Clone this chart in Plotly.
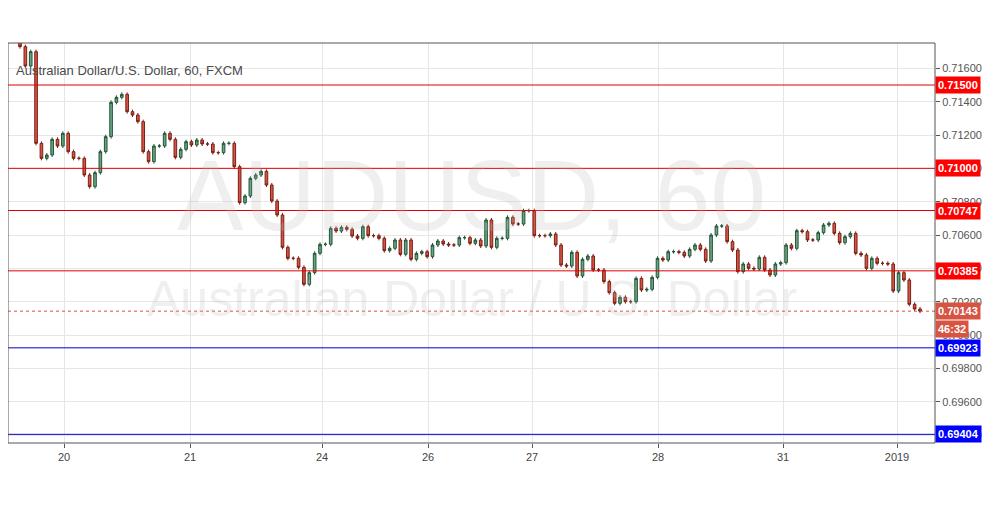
import plotly.graph_objects as go

first_open = 0.7177
closes = [
 0.7173,0.71614,0.7170,0.7115,0.7106,0.7108,0.71174,0.71134,0.7121,0.7110,0.7106,0.7106,0.7096,0.7089,
 0.70974,0.7110,0.7119,0.71396,0.71426,0.71444,0.7134,0.7132,0.7128,0.7110,0.7104,0.71134,0.71134,0.7121,
 0.71174,0.71066,0.71114,0.7116,0.7114,0.7117,0.71146,0.71146,0.71094,0.71094,0.7115,0.7115,0.7101,0.70794,0.70834,
 0.7094,0.7096,0.70982,0.7090,0.70804,0.7072,0.70526,0.7046,0.7046,0.70406,0.70304,0.70374,0.7049,0.70544,0.70544,
 0.7064,0.70624,0.70646,0.70634,0.70594,0.7058,0.7065,0.70596,0.70596,0.7058,0.70506,0.7052,0.7057,0.70484,0.7057,
 0.70454,0.7049,0.7050,0.7047,0.7054,0.70564,0.70546,0.7054,0.7054,0.70584,0.70584,0.7055,0.7057,
 0.70534,0.7069,0.70526,0.7058,0.7058,0.70706,0.70666,0.70666,0.70746,0.70746,0.70596,0.70596,0.70596,0.70606,
 0.7054,0.7042,0.70414,0.70496,0.70354,0.70454,0.70474,0.7039,0.7039,0.7032,0.70254,0.7019,0.70226,0.7020,0.7020,
 0.7034,0.7027,0.70274,0.70346,0.7046,0.7045,0.7050,0.7050,0.70496,0.70474,0.70514,0.7054,0.70514,0.70444,0.7060,0.70654,
 0.70654,0.7056,0.7051,0.7038,0.70426,0.7040,0.70396,0.70466,0.7039,0.7036,0.70426,0.70434,0.7054,0.7052,0.70626,
 0.7062,0.7057,0.7057,0.70614,0.7066,0.7067,0.7061,0.70554,0.7059,0.7061,0.7049,0.7048,0.7040,0.7046,0.7043,0.7043,
 0.70426,0.70264,0.70374,0.7033,0.70184,0.70156,0.70143,
]
day_labels = ["20", "21", "24", "26", "27", "28", "31", "2019"]
day_px = [64, 190, 322, 428, 532, 658, 783, 897]
red_levels = [0.71500, 0.71000, 0.70747, 0.70385]
blue_levels = [0.69923, 0.69404]
last_price = 0.70143
price_ticks = [0.6940 + 0.0020 * i for i in range(12)]

n = len(closes)
opens = [first_open] + closes[:-1]
highs = [max(o, c) + 0.00012 for o, c in zip(opens, closes)]
lows = [min(o, c) - 0.00012 for o, c in zip(opens, closes)]
x = list(range(n))

step = 900 / (n - 1)
x_left = -(20 - 8) / step
x_right = (n - 1) + (935 - 920) / step
tickvals = [(p - 20) / step for p in day_px]

fig = go.Figure()
fig.add_trace(go.Candlestick(
    x=x, open=opens, high=highs, low=lows, close=closes,
    increasing=dict(line=dict(color="#225437", width=1), fillcolor="#6ba583"),
    decreasing=dict(line=dict(color="#7a1f14", width=1), fillcolor="#d75442"),
    whiskerwidth=0, showlegend=False, hoverinfo="skip"))

shapes = []
for lv in red_levels:
    shapes.append(dict(type="line", xref="paper", x0=0, x1=1, yref="y", y0=lv, y1=lv,
                       line=dict(color="#e00000", width=1)))
for lv in blue_levels:
    shapes.append(dict(type="line", xref="paper", x0=0, x1=1, yref="y", y0=lv, y1=lv,
                       line=dict(color="#0000c8", width=1)))
shapes.append(dict(type="line", xref="paper", x0=0, x1=1, yref="y", y0=last_price, y1=last_price,
                   line=dict(color="#d75442", width=1, dash="dot")))
shapes.append(dict(type="rect", xref="paper", yref="paper", x0=0, x1=1, y0=0, y1=1,
                   line=dict(color="#555", width=1)))

ann = []
ann.append(dict(text="AUDUSD, 60", x=0.5, y=0.62, xref="paper", yref="paper", showarrow=False,
                font=dict(size=100, color="rgba(180,180,180,0.22)", family="Liberation Sans")))
ann.append(dict(text="Australian Dollar / U.S. Dollar", x=0.5, y=0.36, xref="paper", yref="paper", showarrow=False,
                font=dict(size=50, color="rgba(180,180,180,0.22)", family="Liberation Sans")))
ann.append(dict(text="Australian Dollar/U.S. Dollar, 60, FXCM", x=0.006, y=0.955, xref="paper", yref="paper",
                xanchor="left", showarrow=False, font=dict(size=13, color="#4a4a4a", family="Liberation Sans")))

def tag(val, bg, txt=None, yoff=0):
    ann.append(dict(text="<b>%s</b>" % (txt or "%.5f" % val), x=1.0, y=val, xref="paper", yref="y",
                    xanchor="left", yshift=yoff, showarrow=False, bgcolor=bg, borderpad=2,
                    font=dict(size=11, color="white", family="Liberation Sans")))
for lv in red_levels:
    tag(lv, "#ff0000")
for lv in blue_levels:
    tag(lv, "#0000ff")
tag(last_price, "#d75442")
tag(last_price, "#d75442", txt="46:32", yoff=-18)

fig.update_layout(
    width=994, height=500, margin=dict(l=0, r=67, t=35, b=65),
    paper_bgcolor="white", plot_bgcolor="white",
    shapes=shapes, annotations=ann,
    xaxis=dict(range=[x_left, x_right], tickvals=tickvals, ticktext=day_labels, showgrid=True,
               gridcolor="#e6e6e6", rangeslider=dict(visible=False), ticks="outside", ticklen=4,
               tickcolor="#555", tickfont=dict(size=11, color="#444", family="Liberation Sans"),
               zeroline=False),
    yaxis=dict(side="right", range=[0.69352, 0.71752], tickvals=price_ticks,
               ticktext=["%.5f" % t for t in price_ticks], showgrid=True,
               gridcolor="#e6e6e6", ticks="outside", ticklen=4, tickcolor="#555",
               tickfont=dict(size=11, color="#555", family="Liberation Sans"), zeroline=False),
)
fig.write_html("out.html")
